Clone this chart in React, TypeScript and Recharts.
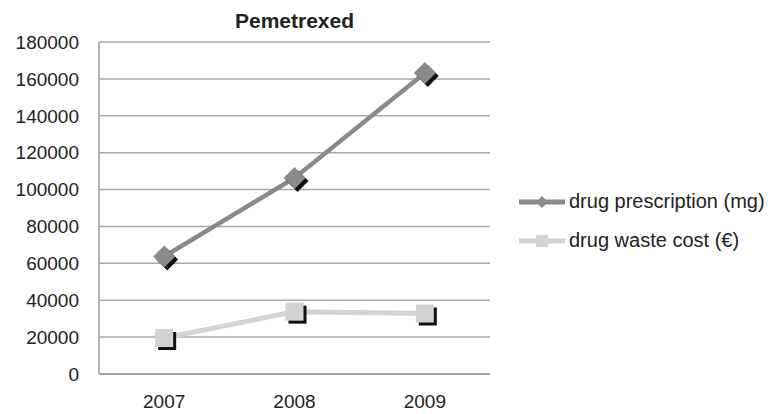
import { LineChart, Line, XAxis, YAxis, CartesianGrid, Legend } from "recharts";

const years = ["2007", "2008", "2009"];
const prescriptionMg = [63700, 106300, 163200];
const wasteCostEur = [19500, 33800, 32800];
const yTicks = [0, 20000, 40000, 60000, 80000, 100000, 120000, 140000, 160000, 180000];

const data = years.map((y, i) => ({
    year: y,
    prescription: prescriptionMg[i],
    waste: wasteCostEur[i],
}));

const FONT = "'Liberation Sans', Arial, Helvetica, sans-serif";
const DARK = "#8a8a8a";
const LIGHT = "#d3d3d3";

const DiamondDot = (props: any) => {
    const { cx, cy } = props;
    if (cx == null || cy == null) return null;
    const r = 11;
    const pts = (dx: number, dy: number) =>
        `${cx + dx},${cy + dy - r} ${cx + dx + r},${cy + dy} ${cx + dx},${cy + dy + r} ${cx + dx - r},${cy + dy}`;
    return (
        <g>
            <polygon points={pts(3, 3)} fill="#111" />
            <polygon points={pts(0, 0)} fill={DARK} />
        </g>
    );
};

const SquareDot = (props: any) => {
    const { cx, cy } = props;
    if (cx == null || cy == null) return null;
    const s = 18;
    return (
        <g>
            <rect x={cx - s / 2 + 3} y={cy - s / 2 + 3} width={s} height={s} fill="#111" />
            <rect x={cx - s / 2} y={cy - s / 2} width={s} height={s} fill={LIGHT} />
        </g>
    );
};

const LegendBox = () => (
    <div style={{ paddingLeft: 29, fontFamily: FONT, fontSize: 20, color: "#222" }}>
        <div style={{ height: 39, display: "flex", alignItems: "center" }}>
            <svg width={46} height={14} style={{ marginRight: 4 }}>
                <line x1={0} y1={7} x2={46} y2={7} stroke={DARK} strokeWidth={5} />
                <polygon points="23,1 29,7 23,13 17,7" fill={DARK} />
            </svg>
            <span>drug prescription (mg)</span>
        </div>
        <div style={{ height: 39, display: "flex", alignItems: "center" }}>
            <svg width={46} height={14} style={{ marginRight: 4 }}>
                <line x1={0} y1={7} x2={46} y2={7} stroke={LIGHT} strokeWidth={5} />
                <rect x={17} y={1} width={12} height={12} fill={LIGHT} />
            </svg>
            <span>drug waste cost (€)</span>
        </div>
    </div>
);

export default function App() {
    return (
        <div style={{ position: "absolute", left: 0, top: 0, background: "#fff" }}>
            <LineChart
                width={771}
                height={414}
                data={data}
                margin={{ top: 42, right: 0, bottom: 0, left: 0 }}
            >
                <text
                    x={294.5}
                    y={28}
                    textAnchor="middle"
                    fontFamily={FONT}
                    fontSize={21}
                    fontWeight="bold"
                    fill="#222"
                >
                    Pemetrexed
                </text>
                <CartesianGrid horizontal vertical={false} stroke="#a8a8a8" strokeWidth={1.5} />
                <XAxis
                    dataKey="year"
                    scale="band"
                    height={40}
                    tickLine={false}
                    axisLine={{ stroke: "#9a9a9a", strokeWidth: 1.5 }}
                    tickMargin={15}
                    tick={{ fill: "#222", fontSize: 19, fontFamily: FONT }}
                />
                <YAxis
                    width={99}
                    domain={[0, 180000]}
                    ticks={yTicks}
                    interval={0}
                    tickLine={false}
                    axisLine={{ stroke: "#9a9a9a", strokeWidth: 1.5 }}
                    tickMargin={14}
                    tick={{ fill: "#222", fontSize: 19, fontFamily: FONT }}
                />
                <Legend
                    layout="vertical"
                    align="right"
                    verticalAlign="middle"
                    width={281}
                    wrapperStyle={{ top: 182 }}
                    content={<LegendBox />}
                />
                <Line
                    dataKey="prescription"
                    stroke={DARK}
                    strokeWidth={4.5}
                    dot={<DiamondDot />}
                    activeDot={false}
                    isAnimationActive={false}
                />
                <Line
                    dataKey="waste"
                    stroke={LIGHT}
                    strokeWidth={5}
                    dot={<SquareDot />}
                    activeDot={false}
                    isAnimationActive={false}
                />
            </LineChart>
        </div>
    );
}
